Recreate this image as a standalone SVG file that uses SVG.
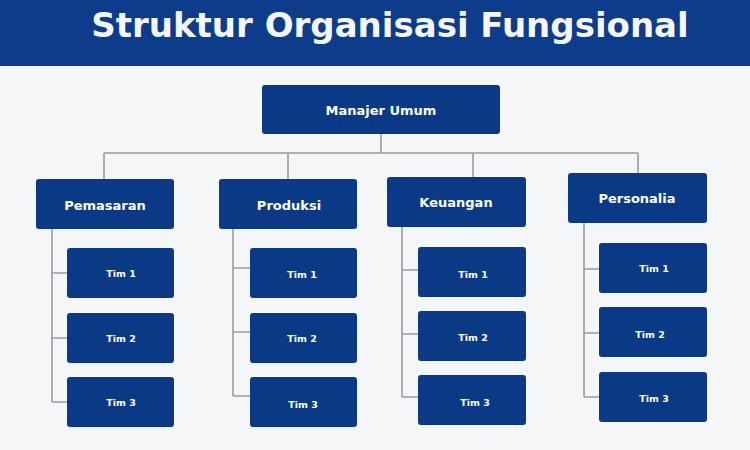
<svg xmlns="http://www.w3.org/2000/svg" width="750" height="450" viewBox="0 0 750 450">
<style>
.box{fill:#0a3985;}
.dept{font-family:"DejaVu Sans",Verdana,sans-serif;font-weight:bold;font-size:13px;fill:#ffffff;text-anchor:middle;dominant-baseline:central;}
.tim{font-family:"DejaVu Sans",Verdana,sans-serif;font-weight:bold;font-size:9.5px;fill:#ffffff;text-anchor:middle;dominant-baseline:central;}
.ln{stroke:#9a9c9f;stroke-width:1.6;fill:none;}
</style>
<rect x="0" y="0" width="750" height="450" fill="#f5f6f8"/>
<rect x="0" y="0" width="750" height="66" fill="#0d3c8a"/>
<text x="390" y="25" font-family="DejaVu Sans,Verdana,sans-serif" font-weight="bold" font-size="34" fill="#f4f6fa" text-anchor="middle" dominant-baseline="central">Struktur Organisasi Fungsional</text>
<g id="connectors" class="ln">
<path d="M381,134V153M104,153H638M104,153V179M288,153V179M473,153V177M638,153V173"/>
<path d="M52,229V402M52,273H67M52,338H67M52,402H67"/>
<path d="M233,229V396M233,268H250M233,332H250M233,396H250"/>
<path d="M402,227V397M402,270H418M402,334H418M402,397H418"/>
<path d="M584,223V397M584,269H599M584,333H599M584,397H599"/>
</g>
<g id="manajer"><rect class="box" x="262" y="85" width="238" height="49" rx="3"/><text class="dept" x="381" y="110">Manajer Umum</text></g>
<g id="pemasaran"><rect class="box" x="36" y="179" width="138" height="50" rx="3"/><text class="dept" x="105" y="205">Pemasaran</text></g>
<g id="produksi"><rect class="box" x="219" y="179" width="138" height="50" rx="3"/><text class="dept" x="289" y="205">Produksi</text></g>
<g id="keuangan"><rect class="box" x="387" y="177" width="139" height="50" rx="3"/><text class="dept" x="456" y="202">Keuangan</text></g>
<g id="personalia"><rect class="box" x="568" y="173" width="139" height="50" rx="3"/><text class="dept" x="637" y="198">Personalia</text></g>
<g id="pemasaran-tim1"><rect class="box" x="67" y="248" width="107" height="50" rx="3"/><text class="tim" x="121" y="273">Tim 1</text></g>
<g id="pemasaran-tim2"><rect class="box" x="67" y="313" width="107" height="50" rx="3"/><text class="tim" x="121" y="338">Tim 2</text></g>
<g id="pemasaran-tim3"><rect class="box" x="67" y="377" width="107" height="50" rx="3"/><text class="tim" x="121" y="402">Tim 3</text></g>
<g id="produksi-tim1"><rect class="box" x="250" y="248" width="107" height="50" rx="3"/><text class="tim" x="302" y="274">Tim 1</text></g>
<g id="produksi-tim2"><rect class="box" x="250" y="313" width="107" height="50" rx="3"/><text class="tim" x="302" y="338">Tim 2</text></g>
<g id="produksi-tim3"><rect class="box" x="250" y="377" width="107" height="50" rx="3"/><text class="tim" x="303" y="404">Tim 3</text></g>
<g id="keuangan-tim1"><rect class="box" x="418" y="247" width="108" height="50" rx="3"/><text class="tim" x="473" y="274">Tim 1</text></g>
<g id="keuangan-tim2"><rect class="box" x="418" y="311" width="108" height="50" rx="3"/><text class="tim" x="473" y="337">Tim 2</text></g>
<g id="keuangan-tim3"><rect class="box" x="418" y="375" width="108" height="50" rx="3"/><text class="tim" x="475" y="402">Tim 3</text></g>
<g id="personalia-tim1"><rect class="box" x="599" y="243" width="108" height="50" rx="3"/><text class="tim" x="654" y="268">Tim 1</text></g>
<g id="personalia-tim2"><rect class="box" x="599" y="307" width="108" height="50" rx="3"/><text class="tim" x="650" y="334">Tim 2</text></g>
<g id="personalia-tim3"><rect class="box" x="599" y="372" width="108" height="50" rx="3"/><text class="tim" x="654" y="398">Tim 3</text></g>
</svg>
